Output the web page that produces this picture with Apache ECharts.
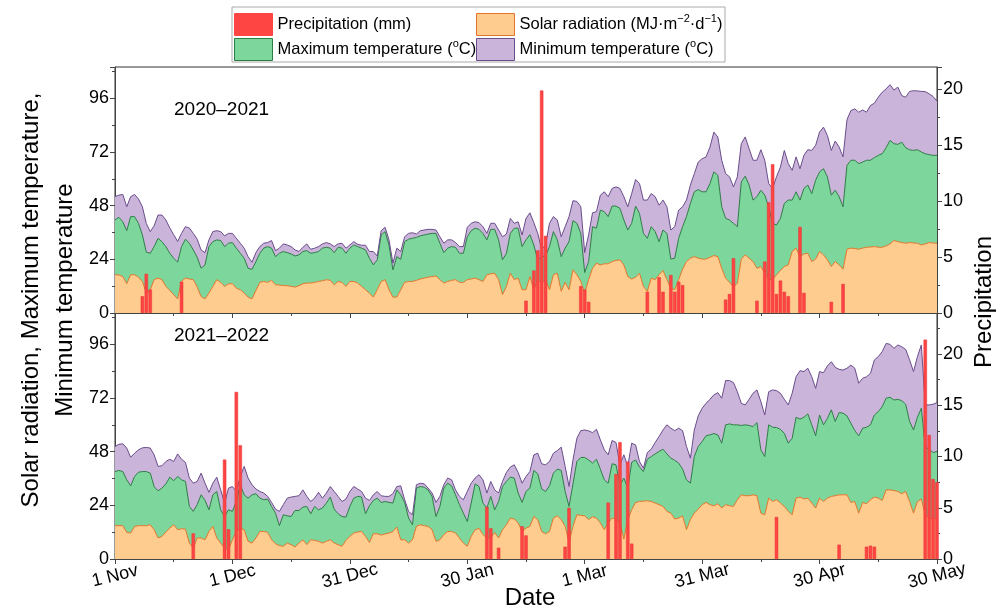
<!DOCTYPE html>
<html>
<head>
<meta charset="utf-8">
<script src="https://cdn.jsdelivr.net/npm/echarts@6/dist/echarts.min.js"></script>
<style>
  html, body { margin: 0; padding: 0; background: #fff; }
  #chart { width: 1003px; height: 613px; }
</style>
</head>
<body>
<div id="chart"></div>
<script>
// x tick labels, one every 30 days from 1 Nov (day 0)
var dateLabels = ['1 Nov', '1 Dec', '31 Dec', '30 Jan', '1 Mar', '31 Mar', '30 Apr', '30 May'];

// ---- 2020-2021, daily values (day 0 = 1 Nov) ----
var solarA = [
  17.1,17,16.3,13.1,17.1,17.1,16,14.1,8.9,10.4,
  14.9,15.6,14.9,11.9,10.1,8.2,6.3,14.1,15.6,15.2,
  14.9,11.6,7.4,6.3,8.9,11.9,14.9,13.7,11.9,13.1,
  13.1,11.1,10.4,8.9,7.1,6.3,10.1,13.7,14.1,13.7,
  14.6,12.6,12.5,12.3,12.2,11.9,11.6,12.2,13.1,13.4,
  13.4,13.7,14.1,14.4,14.9,14.6,12.6,14.1,13.7,11.9,
  14.1,14.1,13.4,11.9,10.4,8.9,7.1,10.4,14.1,14.9,
  10.4,7.1,7.1,10.4,13.7,14.1,14.1,14.6,15.2,15.6,
  16,16.3,16.6,14.9,13.4,14.1,14.6,14.9,13.7,13.7,
  14.9,15.2,15.6,14.9,14.1,17.1,17.5,17.8,14.9,8.2,
  11.9,17.8,14.9,15.6,10.4,10.4,16.3,10.4,14.9,13.4,
  14.9,10.4,17.1,17.8,9.7,13.7,10.4,19.3,17.1,14.1,
  8.9,14.9,20,22.3,21.5,22,22,23,23.5,23.8,
  21.5,16.3,15.2,16,17.8,11.9,9.7,15.6,14.9,17.1,
  19,14.9,11.1,10.4,14.9,19.6,23,24.5,25.2,24.5,
  24.1,24.1,24.9,25.7,25.2,20,15.6,13.7,11.6,13.4,
  24.1,26,24.5,23,20,20.8,17.8,15.2,14.9,17.1,
  19,20.8,21.5,27.5,29,25.2,26.4,26.7,23,24.1,
  27.5,26,23.8,20.8,23,21.5,19.6,28.5,29,28.8,
  28.5,29,29.4,29.5,29.7,29.4,29.4,30,30.9,32.4,
  31.9,31.5,31.2,31.5,31.3,31.2,30.4,30.9,31.5,31.3,
  31.2
];
var maxA = [
  24.5,25.8,24.5,23.7,26,26,24.1,20.8,18.3,16.3,
  14.8,17.8,17,17.8,16.6,16.3,16.4,15.6,17.4,16,
  13.3,13.3,12.6,15.2,20.8,20,17.8,18.7,17.8,18.1,
  18.4,17.9,16.3,15.6,12.9,13.2,12.9,13,14.9,16,
  14.4,12.6,14.2,15.2,14.8,14.5,13.9,13.8,14.4,14.5,
  13.3,13.3,13.4,14.6,14.5,14.4,14.4,15.3,15.3,14.8,
  14.9,16.3,16.3,17.1,17.8,15.6,14.4,13.4,20.8,21.5,
  20,12.2,18.1,13.6,18.2,18.9,19.3,19.2,19.3,19.3,
  19.3,19.3,19,16.3,13.6,14.9,15.1,14.5,13,13,
  19.2,21.6,22.3,22.5,21.5,15.6,19.9,19.6,17.8,15.6,
  14.8,17.8,23,22.3,19.3,22.3,18.7,20,8.9,11.8,
  10.6,19.3,19.3,14.9,15.5,15.3,21.5,22,23,21.5,
  9.2,8.1,18.6,15.6,24.5,23.3,21.1,24.8,24.3,23,
  20.1,20.8,24.9,31.8,26.7,23.7,23.7,23,21.5,14.8,
  18.1,20.7,13,14.1,18.5,19,20.1,24.5,29,30.7,
  30.1,30.1,33,37.4,36.4,27.5,26.7,27.9,28.5,25.2,
  34.5,35.2,32.7,27.5,32,34.1,34.9,32.3,25.2,22.2,
  23.3,28.2,29,23,25.2,25.3,29.3,30.5,30.4,35.3,
  35.6,38.5,37.1,31.9,31.9,30.5,27.9,37.5,39.3,39.5,
  38.3,38.5,38.9,38.8,39.8,41.1,41.8,43.9,46.3,43.3,
  43.5,44.9,42.7,41.5,41.4,41.8,41.6,40.3,39.3,39.2,
  39.3
];
var minA = [
  10.4,9.9,12.2,10.7,8.9,9.9,10.9,12.6,12.8,9.7,
  9.3,10.4,11.9,11.9,11.3,10.5,9.3,5.9,5.6,6.8,
  7.4,8.1,8.2,5.5,3,4.5,4.1,4,4.8,4.4,
  4.1,4.4,4.5,4.5,5.2,3.2,4,3,2.2,1.8,
  3.4,2.7,2.3,3.4,3.4,3.3,2.7,1.5,1.9,3,
  1.8,2,2.2,1.9,2.1,1.9,2.7,1.5,2.2,2.3,
  1.4,1.5,1,1.3,2.1,3,6,1.7,1.9,1.9,
  2.3,3,3.8,3.5,2.2,2.6,2.5,1.5,2.3,2.2,
  2.1,1.8,1.5,2.9,4.2,3.7,3,2.1,3,3,
  4.2,3.3,2.9,3,3,2.9,2.7,2.7,4.4,10.3,
  8.6,6.7,2.2,2.9,5.2,9.6,9.8,10,11.8,3.3,
  4.9,10.4,6.7,8.9,8.9,9.6,11.2,8.9,9.8,11.9,
  8.9,12,6.2,7.4,6.7,8.9,8.9,7.9,8.6,8.9,
  10.4,10.4,13.3,11.9,13.4,14.9,17.1,14.8,15.6,16.3,
  13.4,11.9,13,14.1,12.6,8.9,7.4,8.2,8.1,12.3,
  14.8,15.6,16.3,17.8,17.1,20.8,20,19.3,16.3,22.3,
  17.1,17.5,16.3,17.8,16.3,18.1,15.6,10.4,15.6,21.6,
  23,23.7,16.3,13.3,15.6,14,14.8,15.8,19.3,15.6,
  17.8,18.6,18.5,20,22,22.2,22.3,20.4,22.2,23,
  23,23.3,21.5,24.5,24.3,26,27.5,26.3,24.9,24,
  25.6,20.8,22.6,26.1,26.7,26.3,27.1,27.8,27.2,26.3,
  24.2
];
var rainDaysA = [7, 8, 9, 17, 105, 107, 108, 109, 110, 119, 120, 121, 136, 139, 140, 142, 143, 144, 145,
  156, 157, 158, 164, 166, 167, 168, 169, 170, 171, 172, 175, 176, 183, 186];
var rainA = [1.5, 3.5, 2.1, 2.8, 1.1, 3.8, 5.6, 19.9, 6.9, 2.4, 2.1, 1.0, 1.9, 3.2, 1.9, 3.4, 1.9, 2.8, 2.5,
  1.2, 1.7, 4.9, 1.1, 4.6, 9.9, 13.3, 1.7, 2.9, 1.9, 1.5, 7.7, 1.8, 1.0, 2.6];

// ---- 2021-2022 ----
var solarB = [
  14.9,14.9,14.9,11.9,11.6,14.6,14.9,14.9,14.9,15.3,
  13.1,9.4,10.1,12.1,13.8,15.3,13.1,13.5,13.4,7.1,
  4.9,9.4,9.4,8.6,12.3,14.6,9.4,7.1,4.9,4.2,
  8.6,12.3,13.8,13.1,7.9,7.1,9.4,12.3,12.3,11.9,
  8.6,6.8,6,5.7,7.1,6.4,5.4,7.1,8.6,6.4,
  8.6,8.3,7.9,7.1,7.9,8.6,7.1,6.4,5.7,8.3,
  10.1,11.6,12.1,12.3,10.1,7.4,11.3,11.3,10.7,11.2,
  11.6,12.3,14.3,8.6,8.6,7.1,8.6,14.6,15.3,14.9,
  14.6,13.1,7.9,8.6,10.9,12.3,12.3,11.6,9.4,7.1,
  5.7,10.1,13.1,13.7,10.9,9.4,9.4,11.9,9.4,13.1,
  15.3,18.3,17.9,16.1,12.3,13.8,14.6,19,17.6,12.3,
  11.3,12.3,18.3,19.3,17.6,14.6,7.4,14.6,19.8,19.5,
  19.3,17.6,18.9,18.3,16.1,13.1,16.1,18.3,18,16.1,
  8.9,17.6,22,25.3,25.7,25.9,26,25.7,25,24.3,
  23.5,21.3,20.5,17.9,18.3,19.3,13.1,17.6,20.5,22.3,
  24.3,25.3,24.3,23.8,24.7,22.8,24.3,23.8,23.5,26.5,
  28.7,28.3,28.3,28.7,28.3,20.5,19.8,27.2,25.7,26.5,
  25,23.5,21.3,19.8,27.2,27.7,26.8,27.2,25,22.8,
  27.2,25.7,27.2,28,28.3,28.7,28.7,28.7,25.3,25.7,
  20.5,25.3,24.7,26.5,27.7,27.2,26.2,30.9,30.9,30.6,
  30.2,29.2,30.2,25.7,20.5,25.7,26.8,19.8,18.7,17.9,
  18.3
];
var maxB = [
  24.2,24.7,24.2,23.5,21.1,22.3,23.9,24.2,24.2,23.1,
  19.3,21.1,21.6,21.5,22.8,19.7,23.8,21.9,21.3,16.4,
  16.4,14.9,19.3,17.6,9.7,14.1,20.8,14.9,14.1,17.8,
  12.7,13.4,19.4,15.6,19.3,21.6,19.8,14.9,14.2,14.9,
  14.9,13.7,8.9,14.1,12.2,12.6,16.3,14.6,14.6,17.1,
  11.6,15.2,14.1,15.7,17.1,19.1,15.2,13.8,13.3,10.4,
  13.4,15.6,15.9,15.4,10.1,16.4,14.9,15.9,14.6,14.5,
  13.7,12.7,16.6,20.1,16.7,11.2,6.7,17.1,17.1,17.2,
  16.3,14.9,11.1,14.9,20.8,21.6,20.4,17.1,14.9,13.4,
  11.1,14.9,20.5,18.7,14.1,13.4,18.6,10.1,16.3,19.3,
  19.4,18.3,18.3,13.4,13,16.4,17.1,20.6,20.5,19,
  18.9,20.4,20.1,20.9,22,15.6,16.1,19,23.8,25.9,
  26.1,26.7,24,26.3,24.1,22.3,17.8,24.3,24.1,17.1,
  27.3,14.1,21.2,19,15.4,13.2,18.6,20.1,22,23.8,
  25.6,25.7,24.6,26.2,24.6,20.9,22.3,16.3,25.3,28,
  28.2,29.8,31.2,32.3,30.8,29,35.7,36.6,36.5,33.5,
  31,31.7,31.4,30.5,32.7,28.3,26,32.8,33.2,32.3,
  33,32.7,30.5,34.2,36.2,34.8,36.6,37.7,35,32.3,
  37.2,34.3,35.7,38.7,33.2,36.8,36.5,35.3,35.4,31.7,
  34.6,33.2,34.2,33.5,36.7,38.7,41.9,41,41.4,40.5,
  41.2,41.6,39,35.8,37.2,37.7,40.6,30.2,30.4,29.7,
  29.8
];
var minB = [
  11.2,11.7,12.4,14.2,12.8,10.4,10,10.6,10.8,11.2,
  14.2,10.9,10,10,8,8.6,10.1,9.2,8.5,12.7,
  12.6,10.4,9.7,7.7,7.8,5.2,6.4,8.9,6,9.7,
  11.1,4.5,3.7,12.7,9,4.5,2.1,3,3,1.2,
  1.8,1.8,6.4,4.5,7.9,8.7,6.3,6.6,7.7,4.5,
  5.5,3.7,7.8,4.4,4.5,4.7,7.9,7.8,6.7,8.1,
  6.7,5.2,3.3,2.5,7,2.4,2.5,3,3,2.3,
  2.7,4.2,1.5,4,1.2,3,4.5,1.5,1.5,1.5,
  0.8,1.5,6.3,4.5,1.5,2.3,2.7,2.2,3.7,6,
  13.4,8.9,2.6,5.3,10.4,6.7,6.7,8.9,3.8,2.3,
  4,4.5,5.9,9.2,8.6,6.7,7.4,7,9.2,11.3,
  11.9,10.9,8.9,8.3,10.4,11.2,8.9,10.7,10.4,12,
  12.3,13,13.6,13.4,13.1,13.4,12.7,10.4,10,8.9,
  10.4,9.7,8.6,6.7,2.5,1.5,3,3.3,5.1,6.7,
  8.6,13,13.4,13.3,15.6,17.2,14.9,11.2,11.9,13.7,
  14.9,14.5,15.9,17.3,18.9,20.1,19.8,19.4,18.9,14.8,
  9.9,8.9,11.7,14.9,14.6,21.6,18.6,14.8,16.7,16.5,
  16.1,15.2,17.1,20.1,18.1,21.7,20.4,20.4,21.5,21.2,
  19.4,23.3,23.4,21.5,24.2,19.3,19.3,21.3,26,27.9,
  23.5,22.3,22.6,23,24.6,24.6,24.6,24.5,23.7,23.1,
  24.3,24.1,24.5,27.5,26.1,27.1,28.3,18.9,19.8,21.6,
  21.8
];
var rainDaysB = [20, 28, 29, 31, 32, 95, 96, 98, 104, 105, 115, 116, 126, 128, 129, 131, 132,
  169, 185, 192, 193, 194, 207, 208, 209, 210];
var rainB = [2.5, 9.7, 2.9, 16.3, 11.1, 5.1, 3.0, 1.1, 3.2, 2.3, 1.2, 5.0, 5.5, 8.3, 11.4, 9.5, 1.5,
  4.1, 1.4, 1.2, 1.3, 1.2, 21.4, 12.1, 7.8, 7.5];

var NAME_RAIN = 'Precipitation (mm)';
var NAME_SOLAR = 'Solar radiation (MJ m-2 d-1)';
var NAME_MAX = 'Maximum temperature (oC)';
var NAME_MIN = 'Minimum temperature (oC)';

var FONT = 'Liberation Sans, Arial, sans-serif';
var colSolar = { fill: '#ffcc8f', line: '#e3762b' };
var colMax = { fill: '#7dd69b', line: '#2c7c45' };
var colMin = { fill: '#cab4d9', line: '#6a4d8c' };
var colRain = '#ff4444';

// day index categories (stacking goes by category)
var days = solarA.map(function (v, i) { return i; });

function rainPairs(d, vals) {
  return d.map(function (x, i) { return [x, vals[i]]; });
}

function areaSeries(name, vals, col, panel) {
  return {
    name: name, type: 'line', xAxisIndex: panel, yAxisIndex: panel * 2,
    stack: 'p' + panel, data: vals, symbol: 'none', silent: true,
    lineStyle: { color: col.line, width: 1 },
    itemStyle: { color: col.fill },
    areaStyle: { color: col.fill, opacity: 1 }
  };
}
function rainSeries(d, vals, panel) {
  return {
    name: NAME_RAIN, type: 'bar', xAxisIndex: panel, yAxisIndex: panel * 2 + 1,
    data: rainPairs(d, vals), barWidth: 3.4, z: 5, silent: true,
    itemStyle: { color: colRain, borderColor: '#e53535', borderWidth: 0.5 }
  };
}

// hidden category axis that carries the series
function catAxis(panel) {
  return {
    type: 'category', gridIndex: panel, position: 'top', show: false,
    data: days, boundaryGap: false
  };
}
// value axis that draws the date ticks
function tickAxis(panel, showLabels) {
  return {
    type: 'value', gridIndex: panel, position: 'bottom', min: 0, max: 210, interval: 30,
    axisLine: { show: true, lineStyle: { color: '#444', width: 1 } },
    axisTick: { show: true, inside: false, length: 5, lineStyle: { color: '#444' } },
    minorTick: { show: true, splitNumber: 2, length: 3, lineStyle: { color: '#444' } },
    splitLine: { show: false },
    axisLabel: {
      show: showLabels, rotate: 14, margin: 17, align: 'center', verticalAlign: 'middle',
      fontSize: 18, color: '#000', fontFamily: FONT,
      formatter: function (v) {
        return v % 30 === 0 ? dateLabels[v / 30] : '';
      }
    }
  };
}
function yAxisFor(panel, pos, max) {
  return {
    type: 'value', gridIndex: panel, position: pos, min: 0, max: max,
    interval: pos === 'left' ? 24 : 5,
    axisLine: { show: true, lineStyle: { color: '#444', width: 1 } },
    axisTick: { show: true, inside: false, length: 5, lineStyle: { color: '#444' } },
    minorTick: { show: true, splitNumber: 2, length: 3, lineStyle: { color: '#444' } },
    splitLine: { show: false },
    axisLabel: { fontSize: 18, color: '#000', fontFamily: FONT, margin: 6, showMaxLabel: false }
  };
}

// legend text with superscripts
function legendText(name) {
  if (name === NAME_SOLAR) return '{t|Solar radiation (MJ\u00b7m}{s|\u22122}{t|\u00b7d}{s|\u22121}{t|)}';
  if (name === NAME_MAX) return '{t|Maximum temperature (}{s|o}{t|C)}';
  if (name === NAME_MIN) return '{t|Minimum temperature (}{s|o}{t|C)}';
  return '{t|' + name + '}';
}
function legendAt(name, x, y, fill, border) {
  return {
    data: [{ name: name, itemStyle: { color: fill, borderColor: border, borderWidth: 1 } }],
    left: x, top: y, padding: 0, itemWidth: 38, itemHeight: 22, icon: 'rect',
    selectedMode: false, formatter: legendText,
    textStyle: {
      rich: {
        t: { fontSize: 16.5, fontFamily: FONT, color: '#000', lineHeight: 22 },
        s: { fontSize: 11, fontFamily: FONT, color: '#000', lineHeight: 11, verticalAlign: 'top' }
      }
    }
  };
}

var chart = echarts.init(document.getElementById('chart'), null, { renderer: 'canvas', width: 1003, height: 613 });

var option = {
  backgroundColor: '#fff',
  animation: false,
  textStyle: { fontFamily: FONT },
  grid: [
    { left: 115, top: 67, width: 822, height: 246, show: true, borderColor: '#333', borderWidth: 1, backgroundColor: 'transparent' },
    { left: 115, top: 313, width: 822, height: 246, show: true, borderColor: '#333', borderWidth: 1, backgroundColor: 'transparent' }
  ],
  xAxis: [catAxis(0), catAxis(1), tickAxis(0, false), tickAxis(1, true)],
  yAxis: [yAxisFor(0, 'left', 110), yAxisFor(0, 'right', 22), yAxisFor(1, 'left', 110), yAxisFor(1, 'right', 24)],
  legend: [
    legendAt(NAME_RAIN, 234, 13, colRain, colRain),
    legendAt(NAME_SOLAR, 476, 13, colSolar.fill, colSolar.line),
    legendAt(NAME_MAX, 234, 38, colMax.fill, colMax.line),
    legendAt(NAME_MIN, 476, 38, colMin.fill, colMin.line)
  ],
  graphic: [
    { type: 'rect', shape: { x: 232, y: 7, width: 493, height: 55 }, style: { fill: 'none', stroke: '#aaa', lineWidth: 1 }, z: -1 },
    { type: 'text', x: 48, y: 300, rotation: Math.PI / 2,
      style: { text: 'Solar radiation, Maximum temperature,\nMinimum temperature', font: '24px ' + FONT, fill: '#000', align: 'center', verticalAlign: 'middle', lineHeight: 34 } },
    { type: 'text', x: 984, y: 302, rotation: Math.PI / 2,
      style: { text: 'Precipitation', font: '24px ' + FONT, fill: '#000', align: 'center', verticalAlign: 'middle' } },
    { type: 'text', x: 530, y: 598,
      style: { text: 'Date', font: '24px ' + FONT, fill: '#000', align: 'center', verticalAlign: 'middle' } },
    { type: 'text', x: 174, y: 110,
      style: { text: '2020\u20132021', font: '19px ' + FONT, fill: '#000', align: 'left', verticalAlign: 'middle' } },
    { type: 'text', x: 174, y: 336,
      style: { text: '2021\u20132022', font: '19px ' + FONT, fill: '#000', align: 'left', verticalAlign: 'middle' } }
  ],
  series: [
    areaSeries(NAME_SOLAR, solarA, colSolar, 0),
    areaSeries(NAME_MAX, maxA, colMax, 0),
    areaSeries(NAME_MIN, minA, colMin, 0),
    rainSeries(rainDaysA, rainA, 0),
    areaSeries(NAME_SOLAR, solarB, colSolar, 1),
    areaSeries(NAME_MAX, maxB, colMax, 1),
    areaSeries(NAME_MIN, minB, colMin, 1),
    rainSeries(rainDaysB, rainB, 1)
  ]
};

chart.setOption(option);
</script>
</body>
</html>
